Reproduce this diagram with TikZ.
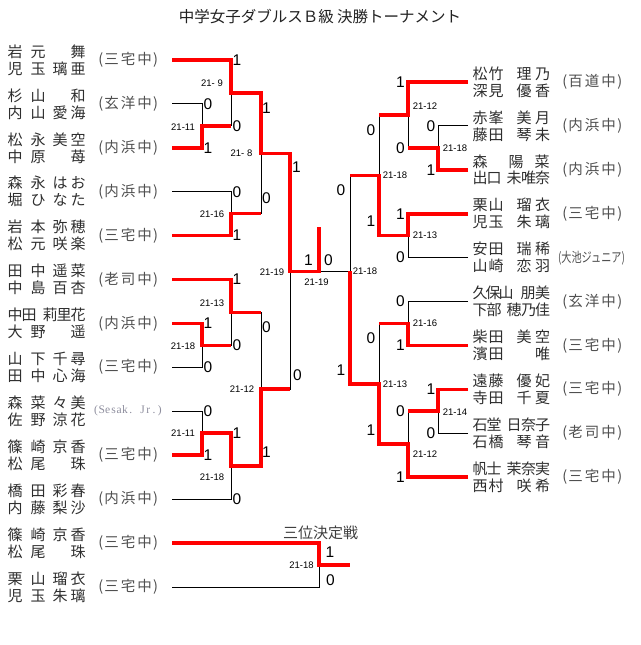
\documentclass[tikz,border=0pt]{standalone}
\usepackage{fontspec}
\setmainfont{Liberation Sans}
\newfontfamily\jp{Noto Sans CJK JP}
\newfontfamily\jrfont{Liberation Serif}
\definecolor{namec}{HTML}{2E2E2E}
\definecolor{schc}{HTML}{505050}
\definecolor{jrc}{HTML}{8E8E9E}
\definecolor{ttlc}{HTML}{222222}
\newcommand\CC[1]{\makebox[0pt]{#1}}
% left name layouts (start x = 8)
\newcommand\LA[4]{\hspace*{7pt}\CC{#1}\hspace*{23pt}\CC{#2}\hspace*{22pt}\CC{#3}\hspace*{18pt}\CC{#4}\hspace*{7pt}}
\newcommand\LB[5]{\hspace*{7pt}\CC{#1}\hspace*{14pt}\CC{#2}\hspace*{21pt}\CC{#3}\hspace*{14pt}\CC{#4}\hspace*{14pt}\CC{#5}\hspace*{7pt}}
% right name layouts (start x = 473)
\newcommand\RA[4]{\hspace*{7pt}\CC{#1}\hspace*{16pt}\CC{#2}\hspace*{28pt}\CC{#3}\hspace*{18.5pt}\CC{#4}\hspace*{7pt}}
\newcommand\RB[5]{\hspace*{7pt}\CC{#1}\hspace*{14pt}\CC{#2}\hspace*{20pt}\CC{#3}\hspace*{14.5pt}\CC{#4}\hspace*{14pt}\CC{#5}\hspace*{7pt}}
\newcommand\RC[5]{\hspace*{7pt}\CC{#1}\hspace*{13pt}\CC{#2}\hspace*{13pt}\CC{#3}\hspace*{22pt}\CC{#4}\hspace*{14.5pt}\CC{#5}\hspace*{7pt}}
\newcommand\RD[3]{\hspace*{7pt}\CC{#1}\hspace*{36pt}\CC{#2}\hspace*{26pt}\CC{#3}\hspace*{7pt}}
% school layout
\newcommand\SC[3]{\hspace*{2.5pt}\CC{(}\hspace*{11pt}\CC{#1}\hspace*{16.5pt}\CC{#2}\hspace*{16.5pt}\CC{#3}\hspace*{11pt}\CC{)}\hspace*{2.5pt}}
\newcommand\MM[1]{\makebox[5.8pt]{#1}}
\tikzset{
  base/.style={line width=1pt, black},
  win/.style={line width=3.6pt, red, line join=miter},
  nm/.style={anchor=west, inner sep=0pt, font=\jp\fontsize{15}{15}\selectfont, text=namec},
  sch/.style={anchor=west, inner sep=0pt, font=\jp\fontsize{14.5}{15}\selectfont, text=schc},
  scr/.style={inner sep=0pt, font=\fontsize{15.5}{15.5}\selectfont, text=black},
  lab/.style={inner sep=0pt, font=\fontsize{9.5}{10}\selectfont, text=black},
  ttl/.style={inner sep=0pt, font=\jp\fontsize{15.5}{16}\selectfont, text=ttlc},
}
\begin{document}
\begin{tikzpicture}[x=1pt,y=-1pt]
\useasboundingbox (0,0) rectangle (640,645);
\fill[white] (0,0) rectangle (640,645);

\node[ttl] (title) at (320,17) {中学女子ダブルスＢ級 決勝トーナメント};

% ---------- coordinates: left entries ----------
\coordinate (L1) at (172,60);
\coordinate (L2) at (172,103.9);
\coordinate (L3) at (172,147.8);
\coordinate (L4) at (172,191.7);
\coordinate (L5) at (172,235.6);
\coordinate (L6) at (172,279.5);
\coordinate (L7) at (172,323.4);
\coordinate (L8) at (172,367.3);
\coordinate (L9) at (172,411.2);
\coordinate (L10) at (172,455.1);
\coordinate (L11) at (172,499);
% left junctions
\coordinate (Ma) at (202,125.85);
\coordinate (Mb) at (231,92.9);
\coordinate (Mc) at (231,213.65);
\coordinate (Md) at (261,153.3);
\coordinate (Me) at (202,345.35);
\coordinate (Mf) at (231,312.4);
\coordinate (Mg) at (202,433.15);
\coordinate (Mh) at (231,466.1);
\coordinate (Mi) at (261,389.25);
\coordinate (Mj) at (290,271.3);
\coordinate (F) at (319,271.3);
\coordinate (Champ) at (319,227);
% right entries
\coordinate (R1) at (468,82);
\coordinate (R2) at (468,125.9);
\coordinate (R3) at (468,169.8);
\coordinate (R4) at (468,213.7);
\coordinate (R5) at (468,257.6);
\coordinate (R6) at (468,301.5);
\coordinate (R7) at (468,345.4);
\coordinate (R8) at (468,389.3);
\coordinate (R9) at (468,433.2);
\coordinate (R10) at (468,477.1);
% right junctions
\coordinate (RMa) at (438,147.85);
\coordinate (RMb) at (408,114.9);
\coordinate (RMc) at (408,235.65);
\coordinate (RMd) at (379,175.3);
\coordinate (RMe) at (408,323.45);
\coordinate (RMf) at (438,411.25);
\coordinate (RMg) at (408,444.2);
\coordinate (RMh) at (379,383.8);
\coordinate (RSF) at (350,271.3);
% third place
\coordinate (TA) at (172,543);
\coordinate (TB) at (172,587);
\coordinate (TP) at (319,565);
\coordinate (TPo) at (350,565);

% ---------- black skeleton ----------
\draw[base] (L2) -| (Ma) (L3) -| (Ma) (L1) -| (Mb) (Ma) -| (Mb)
  (L4) -| (Mc) (L5) -| (Mc) (Mb) -| (Md) (Mc) -| (Md)
  (L7) -| (Me) (L8) -| (Me) (L6) -| (Mf) (Me) -| (Mf)
  (L9) -| (Mg) (L10) -| (Mg) (Mg) -| (Mh) (L11) -| (Mh)
  (Mf) -| (Mi) (Mh) -| (Mi) (Md) -| (Mj) (Mi) -| (Mj)
  (Mj) -- (F) (RSF) -- (F);
\draw[base] (R2) -| (RMa) (R3) -| (RMa) (R1) -| (RMb) (RMa) -| (RMb)
  (R4) -| (RMc) (R5) -| (RMc) (RMb) -| (RMd) (RMc) -| (RMd)
  (R6) -| (RMe) (R7) -| (RMe) (R8) -| (RMf) (R9) -| (RMf)
  (RMf) -| (RMg) (R10) -| (RMg) (RMe) -| (RMh) (RMg) -| (RMh)
  (RMd) -| (RSF) (RMh) -| (RSF);
\draw[base] (TA) -| (TP) (TB) -| (TP);

% ---------- winners (red) ----------
\draw[win] (L1) -| (Mb) -| (Md) -| (Mj) -- (F) -- (Champ);
\draw[win] (L3) -| (Ma) -- (Ma -| Mb);
\draw[win] (L5) -| (Mc) -- (Mc -| Md);
\draw[win] (L6) -| (Mf) -- (Mf -| Mi);
\draw[win] (L7) -| (Me) -- (Me -| Mf);
\draw[win] (L10) -| (Mg) -| (Mh) -| (Mi) -- (Mi -| Mj);
\draw[win] (R1) -| (RMb) -- (RMb -| RMd);
\draw[win] (R3) -| (RMa) -- (RMa -| RMb);
\draw[win] (R4) -| (RMc) -| (RMd) -- (RMd -| RSF);
\draw[win] (R7) -| (RMe) -- (RMe -| RMh);
\draw[win] (R8) -| (RMf) -- (RMf -| RMg);
\draw[win] (R10) -| (RMg) -| (RMh) -| (RSF);
\draw[win] (TA) -| (TP) -- (TPo);

% ---------- left names ----------
\node[nm] (n1a) at (8,51.5) {\LA{岩}{元}{}{舞}};
\node[nm] (n1b) at (8,68.5) {\LA{児}{玉}{璃}{亜}};
\node[nm] (n2a) at (8,95.4) {\LA{杉}{山}{}{和}};
\node[nm] (n2b) at (8,112.4) {\LA{内}{山}{愛}{海}};
\node[nm] (n3a) at (8,139.3) {\LA{松}{永}{美}{空}};
\node[nm] (n3b) at (8,156.3) {\LA{中}{原}{}{苺}};
\node[nm] (n4a) at (8,183.2) {\LA{森}{永}{は}{お}};
\node[nm] (n4b) at (8,200.2) {\LA{堀}{ひ}{な}{た}};
\node[nm] (n5a) at (8,227.1) {\LA{岩}{本}{弥}{穂}};
\node[nm] (n5b) at (8,244.1) {\LA{松}{元}{咲}{楽}};
\node[nm] (n6a) at (8,271) {\LA{田}{中}{遥}{菜}};
\node[nm] (n6b) at (8,288) {\LA{中}{島}{百}{杏}};
\node[nm] (n7a) at (8,314.9) {\LB{中}{田}{莉}{里}{花}};
\node[nm] (n7b) at (8,331.9) {\LA{大}{野}{}{遥}};
\node[nm] (n8a) at (8,358.8) {\LA{山}{下}{千}{尋}};
\node[nm] (n8b) at (8,375.8) {\LA{田}{中}{心}{海}};
\node[nm] (n9a) at (8,402.7) {\LA{森}{菜}{々}{美}};
\node[nm] (n9b) at (8,419.7) {\LA{佐}{野}{涼}{花}};
\node[nm] (n10a) at (8,446.6) {\LA{篠}{崎}{京}{香}};
\node[nm] (n10b) at (8,463.6) {\LA{松}{尾}{}{珠}};
\node[nm] (n11a) at (8,490.5) {\LA{橋}{田}{彩}{春}};
\node[nm] (n11b) at (8,507.5) {\LA{内}{藤}{梨}{沙}};
\node[nm] (nAa) at (8,534.5) {\LA{篠}{崎}{京}{香}};
\node[nm] (nAb) at (8,551.5) {\LA{松}{尾}{}{珠}};
\node[nm] (nBa) at (8,578.5) {\LA{栗}{山}{瑠}{衣}};
\node[nm] (nBb) at (8,595.5) {\LA{児}{玉}{朱}{璃}};

% ---------- left schools ----------
\node[sch] (s1) at (98,60) {\SC{三}{宅}{中}};
\node[sch] (s2) at (98,103.9) {\SC{玄}{洋}{中}};
\node[sch] (s3) at (98,147.8) {\SC{内}{浜}{中}};
\node[sch] (s4) at (98,191.7) {\SC{内}{浜}{中}};
\node[sch] (s5) at (98,235.6) {\SC{三}{宅}{中}};
\node[sch] (s6) at (98,279.5) {\SC{老}{司}{中}};
\node[sch] (s7) at (98,323.4) {\SC{内}{浜}{中}};
\node[sch] (s8) at (98,367.3) {\SC{三}{宅}{中}};
\node[inner sep=0pt, font=\jrfont\fontsize{11.5}{12}\selectfont, text=jrc] (s9) at (128,411.2)
  {\MM{(}\MM{S}\MM{e}\MM{s}\MM{a}\MM{k}\MM{.}\MM{}\MM{J}\MM{r}\MM{.}\MM{)}};
\node[sch] (s10) at (98,455.1) {\SC{三}{宅}{中}};
\node[sch] (s11) at (98,499) {\SC{内}{浜}{中}};
\node[sch] (sA) at (98,543) {\SC{三}{宅}{中}};
\node[sch] (sB) at (98,587) {\SC{三}{宅}{中}};

% ---------- right names ----------
\node[nm] (r1a) at (473,73.5) {\RA{松}{竹}{理}{乃}};
\node[nm] (r1b) at (473,90.5) {\RA{深}{見}{優}{香}};
\node[nm] (r2a) at (473,117.4) {\RA{赤}{峯}{美}{月}};
\node[nm] (r2b) at (473,134.4) {\RA{藤}{田}{琴}{未}};
\node[nm] (r3a) at (473,161.3) {\RD{森}{陽}{菜}};
\node[nm] (r3b) at (473,178.3) {\RB{出}{口}{未}{唯}{奈}};
\node[nm] (r4a) at (473,205.2) {\RA{栗}{山}{瑠}{衣}};
\node[nm] (r4b) at (473,222.2) {\RA{児}{玉}{朱}{璃}};
\node[nm] (r5a) at (473,249.1) {\RA{安}{田}{瑞}{稀}};
\node[nm] (r5b) at (473,266.1) {\RA{山}{崎}{恋}{羽}};
\node[nm] (r6a) at (473,293) {\RC{久}{保}{山}{朋}{美}};
\node[nm] (r6b) at (473,310) {\RB{下}{部}{穂}{乃}{佳}};
\node[nm] (r7a) at (473,336.9) {\RA{柴}{田}{美}{空}};
\node[nm] (r7b) at (473,353.9) {\RA{濱}{田}{}{唯}};
\node[nm] (r8a) at (473,380.8) {\RA{遠}{藤}{優}{妃}};
\node[nm] (r8b) at (473,397.8) {\RA{寺}{田}{千}{夏}};
\node[nm] (r9a) at (473,424.7) {\RB{石}{堂}{日}{奈}{子}};
\node[nm] (r9b) at (473,441.7) {\RA{石}{橋}{琴}{音}};
\node[nm] (r10a) at (473,468.6) {\RB{帆}{士}{茉}{奈}{実}};
\node[nm] (r10b) at (473,485.6) {\RA{西}{村}{咲}{希}};

% ---------- right schools ----------
\node[sch] (t1) at (562,82) {\SC{百}{道}{中}};
\node[sch] (t2) at (562,125.9) {\SC{内}{浜}{中}};
\node[sch] (t3) at (562,169.8) {\SC{内}{浜}{中}};
\node[sch] (t4) at (562,213.7) {\SC{三}{宅}{中}};
\node[inner sep=0pt, font=\jp\fontsize{13.5}{13.5}\selectfont, text=schc] (t5) at (591.5,258)
  {\scalebox{0.75}[1]{(大池ジュニア)}};
\node[sch] (t6) at (562,301.5) {\SC{玄}{洋}{中}};
\node[sch] (t7) at (562,345.4) {\SC{三}{宅}{中}};
\node[sch] (t8) at (562,389.3) {\SC{三}{宅}{中}};
\node[sch] (t9) at (562,433.2) {\SC{老}{司}{中}};
\node[sch] (t10) at (562,477.1) {\SC{三}{宅}{中}};

% ---------- scores ----------
\node[scr] (pMa1) at (208,103.9) {0};
\node[scr] (pMa2) at (208,147.8) {1};
\node[scr] (pMb1) at (237,60) {1};
\node[scr] (pMb2) at (237,125.85) {0};
\node[scr] (pMc1) at (237,191.7) {0};
\node[scr] (pMc2) at (237,235.6) {1};
\node[scr] (pMd1) at (266.5,108) {1};
\node[scr] (pMd2) at (266.5,198.5) {0};
\node[scr] (pMe1) at (208,323.4) {1};
\node[scr] (pMe2) at (208,367.3) {0};
\node[scr] (pMf1) at (237,279.5) {1};
\node[scr] (pMf2) at (237,345.35) {0};
\node[scr] (pMg1) at (208,411.2) {0};
\node[scr] (pMg2) at (208,455.1) {1};
\node[scr] (pMh1) at (237,433.15) {1};
\node[scr] (pMh2) at (237,499) {0};
\node[scr] (pMi1) at (266.5,327) {0};
\node[scr] (pMi2) at (266.5,452) {1};
\node[scr] (pMj1) at (296.5,167.5) {1};
\node[scr] (pMj2) at (297.5,375) {0};
\node[scr] (pF1) at (308.5,260) {1};
\node[scr] (pF2) at (328.5,260) {0};
\node[scr] (pTP1) at (330,552) {1};
\node[scr] (pTP2) at (330.5,580) {0};
\node[scr] (pRa1) at (431,125.9) {0};
\node[scr] (pRa2) at (431,169.8) {1};
\node[scr] (pRb1) at (400.5,82) {1};
\node[scr] (pRb2) at (400.5,147.85) {0};
\node[scr] (pRc1) at (400.5,213.7) {1};
\node[scr] (pRc2) at (400.5,257.6) {0};
\node[scr] (pRd1) at (371,130) {0};
\node[scr] (pRd2) at (371,221.5) {1};
\node[scr] (pRe1) at (400.5,301.5) {0};
\node[scr] (pRe2) at (400.5,345.4) {1};
\node[scr] (pRf1) at (431,389.3) {1};
\node[scr] (pRf2) at (431,433.2) {0};
\node[scr] (pRg1) at (400.5,411.25) {0};
\node[scr] (pRg2) at (400.5,477.1) {1};
\node[scr] (pRh1) at (371,338) {0};
\node[scr] (pRh2) at (371,430) {1};
\node[scr] (pRs1) at (341,190) {0};
\node[scr] (pRs2) at (341,370) {1};

% ---------- game scores ----------
\node[lab] (gMa) at (183,127) {21-11};
\node[lab] (gMb) at (212,83) {21- 9};
\node[lab] (gMc) at (212,214) {21-16};
\node[lab] (gMd) at (241.5,153) {21- 8};
\node[lab] (gMe) at (183,346) {21-18};
\node[lab] (gMf) at (212,303) {21-13};
\node[lab] (gMg) at (183,433) {21-11};
\node[lab] (gMh) at (212,477) {21-18};
\node[lab] (gMi) at (242,389) {21-12};
\node[lab] (gMj) at (272,272) {21-19};
\node[lab] (gF) at (316.5,282) {21-19};
\node[lab] (gTP) at (301.5,565) {21-18};
\node[lab] (gRa) at (455,148) {21-18};
\node[lab] (gRb) at (425,106) {21-12};
\node[lab] (gRc) at (425,235) {21-13};
\node[lab] (gRd) at (395,175) {21-18};
\node[lab] (gRs) at (365,271) {21-18};
\node[lab] (gRe) at (425,323) {21-16};
\node[lab] (gRf) at (455,412) {21-14};
\node[lab] (gRg) at (425,454) {21-12};
\node[lab] (gRh) at (395,384) {21-13};

\node[ttl, font=\jp\fontsize{15}{15}\selectfont, text=schc!80!black] (third) at (320.5,533) {三位決定戦};
\end{tikzpicture}
\end{document}
